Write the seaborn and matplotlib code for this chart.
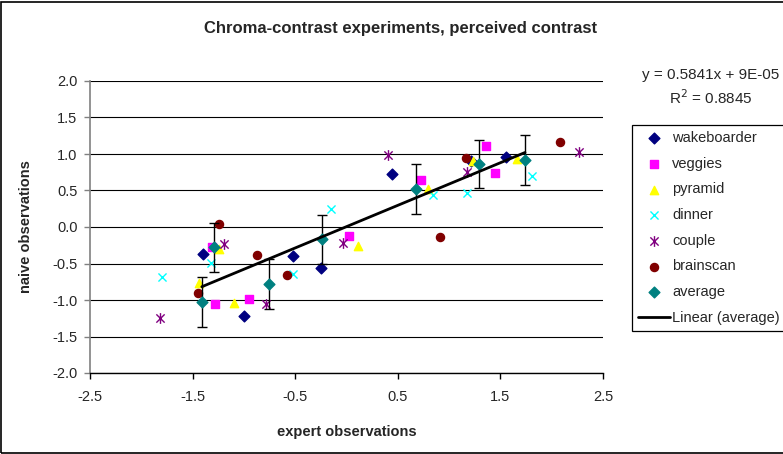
import numpy as np
import pandas as pd
import seaborn as sns
import matplotlib
matplotlib.use("Agg")
from matplotlib import pyplot as plt
from matplotlib.path import Path
from matplotlib.patches import Rectangle

# values
wake_x = [-1.40, -1.00, -0.52, -0.25, 0.44, 1.21, 1.55]
wake_y = [-0.37, -1.22, -0.40, -0.56, 0.72, 0.91, 0.96]
veg_x = [-1.31, -1.28, -0.95, 0.02, 0.73, 1.36, 1.45]
veg_y = [-0.28, -1.06, -0.98, -0.12, 0.64, 1.11, 0.74]
pyr_x = [-1.44, -1.24, -1.10, 0.11, 0.79, 1.23, 1.66]
pyr_y = [-0.77, -0.30, -1.04, -0.26, 0.52, 0.90, 0.93]
din_x = [-1.80, -1.32, -0.52, -0.15, 0.84, 1.17, 1.81]
din_y = [-0.69, -0.49, -0.65, 0.25, 0.44, 0.47, 0.70]
cou_x = [-1.82, -1.19, -0.78, -0.03, 0.40, 1.17, 2.27]
cou_y = [-1.24, -0.23, -1.05, -0.22, 0.99, 0.75, 1.03]
brain_x = [-1.45, -1.24, -0.87, -0.58, 0.91, 1.16, 2.08]
brain_y = [-0.90, 0.04, -0.39, -0.66, -0.14, 0.94, 1.16]
avg_x = [-1.41, -1.29, -0.76, -0.24, 0.68, 1.29, 1.74]
avg_y = [-1.03, -0.28, -0.78, -0.17, 0.52, 0.86, 0.92]
avg_err = [0.34, 0.33, 0.34, 0.34, 0.34, 0.33, 0.34]

x_ticks = [-2.5, -1.5, -0.5, 0.5, 1.5, 2.5]
y_ticks = [-2.0, -1.5, -1.0, -0.5, 0.0, 0.5, 1.0, 1.5, 2.0]

sns.set_style("white")
plt.rcParams['font.family'] = ['Liberation Sans', 'DejaVu Sans']

# excel style asterisk: an x with a vertical bar
star = Path([(-1, -1), (1, 1), (-1, 1), (1, -1), (0, -1.3), (0, 1.3)],
            [Path.MOVETO, Path.LINETO, Path.MOVETO, Path.LINETO, Path.MOVETO, Path.LINETO])

series = [
    ("wakeboarder", wake_x, wake_y, "#000080", "D", 30),
    ("veggies", veg_x, veg_y, "#FF00FF", "s", 30),
    ("pyramid", pyr_x, pyr_y, "#FFFF00", "^", 36),
    ("dinner", din_x, din_y, "#00FFFF", "x", 34),
    ("couple", cou_x, cou_y, "#800080", star, 60),
    ("brainscan", brain_x, brain_y, "#800000", "o", 34),
]

fig = plt.figure(figsize=(7.83, 4.54), dpi=100)
ax = fig.add_axes([90/783, 1 - 373/454, 513/783, 292/454])

for name, xs, ys, col, mk, sz in series:
    df = pd.DataFrame({"x": xs, "y": ys})
    sns.scatterplot(data=df, x="x", y="y", ax=ax, marker=mk, s=sz, color=col,
                    edgecolor=col, linewidth=1.0, label=name, zorder=3)

ax.errorbar(avg_x, avg_y, yerr=avg_err, fmt="none", ecolor="black",
            elinewidth=1.0, capsize=3.5, capthick=1.0, zorder=4)
avg_df = pd.DataFrame({"x": avg_x, "y": avg_y})
sns.scatterplot(data=avg_df, x="x", y="y", ax=ax, marker="D", s=30,
                color="#008080", edgecolor="#008080", linewidth=1.0,
                label="average", zorder=5)

# linear trendline of the averages
slope, icept = np.polyfit(avg_x, avg_y, 1)
lx = np.array([min(avg_x), max(avg_x)])
sns.lineplot(x=lx, y=slope*lx + icept, ax=ax, color="black", linewidth=2,
             label="Linear (average)", zorder=6)

ax.set_xlim(-2.5, 2.5)
ax.set_ylim(-2.0, 2.0)
ax.set_xticks(x_ticks)
ax.set_yticks(y_ticks)
ax.set_xticklabels(["%.1f" % v for v in x_ticks], fontsize=10.5)
ax.set_yticklabels(["%.1f" % v for v in y_ticks], fontsize=10.5)
ax.tick_params(axis="x", direction="out", length=4, width=1, pad=8, color="black", bottom=True)
ax.tick_params(axis="y", direction="out", length=4, width=1, pad=5, color="#808080", left=True)
ax.yaxis.grid(True, color="black", linewidth=0.8)
ax.xaxis.grid(False)
ax.set_axisbelow(True)
for s in ["top", "right"]:
    ax.spines[s].set_visible(False)
ax.spines["left"].set_color("#808080")
ax.spines["bottom"].set_color("black")
ax.spines["left"].set_linewidth(1.2)
ax.spines["bottom"].set_linewidth(1.0)

ax.set_xlabel("expert observations", fontsize=10.5, fontweight="bold")
ax.set_ylabel("naive observations", fontsize=10.5, fontweight="bold")
ax.xaxis.set_label_coords((347 - 90)/513, -(425 - 373)/292)
ax.yaxis.set_label_coords(-(90 - 33)/513, 0.5)

fig.text(401/783, 1 - 29/454, "Chroma-contrast experiments, perceived contrast",
         ha="center", va="center", fontsize=12, fontweight="bold")
fig.text(711/783, 1 - 75/454, "y = 0.5841x + 9E-05", ha="center", va="center", fontsize=11)
fig.text(711/783, 1 - 98/454, "R$^{2}$ = 0.8845", ha="center", va="center", fontsize=11)

handles, labels = ax.get_legend_handles_labels()
order = ["wakeboarder", "veggies", "pyramid", "dinner", "couple", "brainscan",
         "average", "Linear (average)"]
hmap = dict(zip(labels, handles))
leg = ax.legend([hmap[k] for k in order], order, loc="upper left",
                bbox_to_anchor=(632/783, 1 - 125/454), bbox_transform=fig.transFigure,
                frameon=True, fancybox=False, edgecolor="black", framealpha=1,
                fontsize=10.5, handlelength=2.2, handletextpad=0.15, borderpad=0.42,
                labelspacing=0.8, borderaxespad=0)
leg.get_frame().set_linewidth(0.9)

# outer chart border
fig.patches.append(Rectangle((1/783, 1.5/454), 800/783, 450.5/454, transform=fig.transFigure,
                             fill=False, edgecolor="black", linewidth=1.2))

fig.savefig("out.png", dpi=100)
